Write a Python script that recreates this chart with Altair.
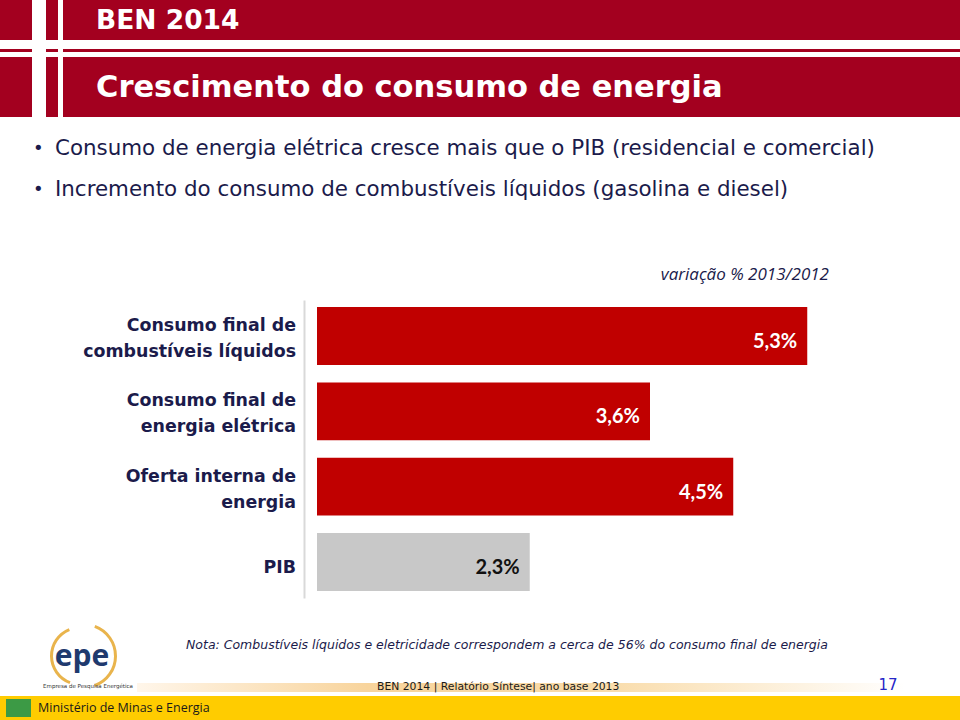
import altair as alt
import pandas as pd

# ---- data ----
categorias = [
    "Consumo final de\ncombustíveis líquidos",
    "Consumo final de\nenergia elétrica",
    "Oferta interna de\nenergia",
    "PIB",
]
variacao = [5.3, 3.6, 4.5, 2.3]

titulo_topo = "BEN 2014"
titulo = "Crescimento do consumo de energia"
bullets = [
    "Consumo de energia elétrica cresce mais que o PIB (residencial e comercial)",
    "Incremento do consumo de combustíveis líquidos (gasolina e diesel)",
]
subtitulo = "variação % 2013/2012"
nota = "Nota: Combustíveis líquidos e eletricidade correspondem a cerca de 56% do consumo final de energia"
rodape = "BEN 2014 | Relatório Síntese| ano base 2013"
pagina = "17"
ministerio = "Ministério de Minas e Energia"
empresa = "Empresa de Pesquisa Energética"

df = pd.DataFrame({"categoria": categorias, "valor": variacao})

# ---- layout ----
L, T = 317, 300          # plot origin on the page
W, H = 555, 298
one = alt.Data(values=[{"k": 1}])

NAVY = "#1B1B4B"
RED_HDR = "#A3001F"


def box(x1, y1, x2, y2, color, **kw):
    return alt.Chart(one).mark_rect(color=color, **kw).encode(
        x=alt.value(x1 - L), x2=alt.value(x2 - L),
        y=alt.value(y1 - T), y2=alt.value(y2 - T))


def txt(s, x, y, size, color, weight="normal", style="normal",
        align="left", font="DejaVu Sans"):
    return alt.Chart(one).mark_text(
        text=s, align=align, baseline="middle", fontSize=size, color=color,
        fontWeight=weight, fontStyle=style, font=font).encode(
        x=alt.value(x - L), y=alt.value(y - T))


def arc(cx, cy, r1, r2, t1, t2, color):
    return alt.Chart(one).mark_arc(
        color=color, radius=r2, radius2=r1, theta=t1, theta2=t2).encode(
        x=alt.value(cx - L), y=alt.value(cy - T))


deco = [
    # header
    box(0, 0, 960, 40, RED_HDR),
    box(0, 49, 960, 52, RED_HDR),
    box(0, 57, 960, 117, RED_HDR),
    box(32, 0, 46, 117, "#FFFFFF"),
    box(58, 0, 63, 117, "#FFFFFF"),
    txt(titulo_topo, 96, 21, 26.5, "#FFFFFF", weight="bold"),
    txt(titulo, 96, 88, 30.5, "#FFFFFF", weight="bold"),
    # bullets
    txt("•", 33, 149, 18, NAVY),
    txt(bullets[0], 55, 149, 21.4, NAVY),
    txt("•", 33, 190, 18, NAVY),
    txt(bullets[1], 55, 190, 21.4, NAVY),
    # subtitle
    txt(subtitulo, 829, 275, 17, NAVY, style="italic", font="Open Sans", align="right"),
    # note
    txt(nota, 186, 645, 12.5, NAVY, style="italic"),
    # footer
    alt.Chart(one).mark_rect(
        fill=alt.Gradient(gradient="linear", x1=0, x2=1, y1=0, y2=0,
                          stops=[alt.GradientStop(offset=0, color="#FFF6EA"),
                                 alt.GradientStop(offset=0.3, color="#F8D49C"),
                                 alt.GradientStop(offset=0.6, color="#F9DBA8"),
                                 alt.GradientStop(offset=1, color="#FFFFFF")])
    ).encode(x=alt.value(137 - L), x2=alt.value(905 - L),
             y=alt.value(683 - T), y2=alt.value(692 - T)),
    txt(rodape, 377, 687, 10.8, "#1A1A1A", font="DejaVu Sans"),
    txt(pagina, 888, 685, 15, "#2626C8", align="center"),
    box(0, 696, 960, 720, "#FFCC00"),
    box(6, 699, 31, 717, "#3C9A45"),
    txt(ministerio, 38, 708, 12.5, "#1A1A1A", font="Open Sans"),
    # epe logo
    arc(80, 656, 27, 30, 3.5, 5.9, "#E9B44C"),
    arc(84, 656, 30, 33, 0.35, 2.8, "#E9B44C"),
    txt("epe", 82, 657, 30, "#1F3A6E", weight="bold", align="center", font="Open Sans"),
    txt(empresa, 88, 686, 5.5, "#333333", align="center"),
]

base = alt.Chart(df).encode(
    y=alt.Y("categoria:N", sort=categorias,
            scale=alt.Scale(paddingInner=0.232, paddingOuter=0.093),
            axis=alt.Axis(title=None, labels=False, ticks=False, grid=False,
                          domain=True, domainColor="#D9D9D9", domainWidth=2,
                          offset=13)),
)

bars = base.mark_bar().encode(
    x=alt.X("valor:Q", scale=alt.Scale(domain=[0, 6]), axis=None),
    color=alt.condition(alt.datum.categoria == "PIB",
                        alt.value("#C8C8C8"), alt.value("#C00000")),
)

values = base.transform_calculate(
    rotulo="replace(format(datum.valor, '.1f'), '.', ',') + '%'"
).mark_text(align="right", baseline="middle", dx=-10, dy=6,
            fontSize=20, fontWeight="bold", font="Lato").encode(
    x=alt.X("valor:Q"),
    text="rotulo:N",
    color=alt.condition(alt.datum.categoria == "PIB",
                        alt.value("#111111"), alt.value("#FFFFFF")),
)

label_style = dict(align="right", baseline="middle", lineBreak="\n",
                   lineHeight=26, fontSize=17.4, fontWeight="bold",
                   font="DejaVu Sans", color=NAVY)

labels_multi = base.transform_filter(
    "indexof(datum.categoria, '\\n') >= 0"
).mark_text(dy=-10, **label_style).encode(x=alt.value(-21), text="categoria:N")

labels_single = base.transform_filter(
    "indexof(datum.categoria, '\\n') < 0"
).mark_text(dy=6, **label_style).encode(x=alt.value(-21), text="categoria:N")

chart = alt.layer(*deco, bars, values, labels_multi, labels_single).properties(
    width=W, height=H,
    autosize=alt.AutoSizeParams(type="none"),
    padding={"left": L, "top": T, "right": 960 - L - W, "bottom": 720 - T - H},
    background="#FFFFFF",
).configure_view(stroke=None)

chart.save("out.html", embed_options={"renderer": "svg", "actions": False})
